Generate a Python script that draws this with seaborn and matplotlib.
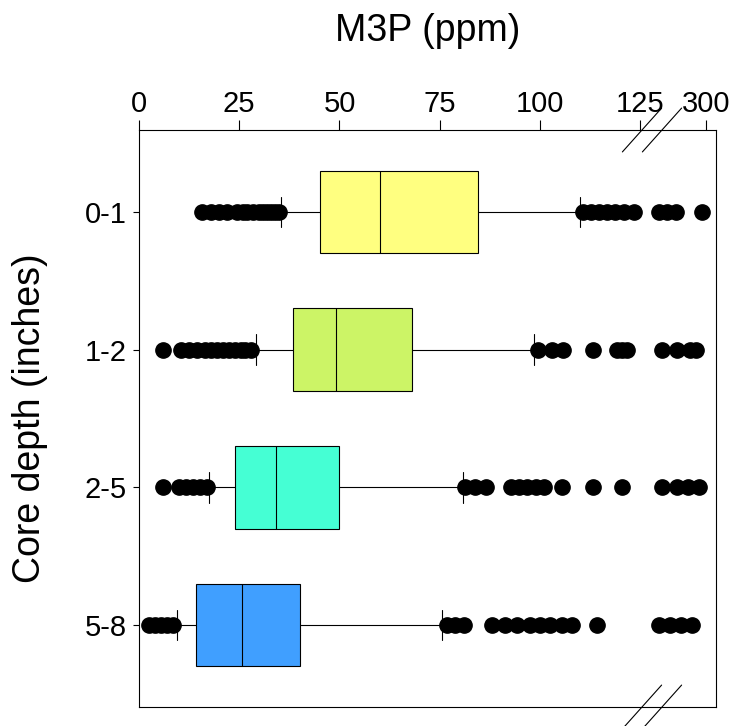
import numpy as np
import pandas as pd
import matplotlib
matplotlib.use("Agg")
import matplotlib.pyplot as plt
import seaborn as sns

# ---------------- data ----------------
categories = ["0-1", "1-2", "2-5", "5-8"]
box_colors = ["#FFFF80", "#CCF466", "#45FFD4", "#409FFF"]

q1 = [45.2, 38.4, 24.0, 14.2]
median = [60.2, 49.2, 34.1, 25.6]
q3 = [84.6, 68.0, 49.9, 40.2]
whisker_low = [35.5, 29.2, 17.5, 9.4]
whisker_high = [110.0, 98.5, 80.9, 75.5]

low_outliers_01 = [15.8, 18.0, 20.0, 22.0, 24.5, 26.0, 27.0, 28.5, 30.0, 31.0, 32.0, 33.0, 34.0, 35.0]
high_outliers_01 = [110.7, 112.7, 114.7, 116.7, 118.7, 121.0, 123.4, 148.0, 174.0, 203.0, 287.0]
low_outliers_12 = [6.0, 10.5, 12.5, 14.5, 16.5, 18.0, 19.5, 21.0, 22.5, 24.0, 25.5, 26.5, 27.9]
high_outliers_12 = [99.5, 103.0, 105.7, 113.1, 119.2, 120.4, 121.7, 156.8, 205.3, 248.3, 267.7]
low_outliers_25 = [5.9, 10.0, 11.7, 13.5, 15.2, 17.0]
high_outliers_25 = [81.3, 83.8, 86.5, 92.8, 94.8, 96.8, 99.0, 101.0, 105.5, 113.3, 120.4,
                    156.8, 205.3, 241.9, 277.4]
low_outliers_58 = [2.5, 4.0, 5.5, 7.0, 8.5]
high_outliers_58 = [76.9, 78.8, 81.0, 88.0, 91.3, 94.2, 97.5, 100.0, 102.5, 105.4, 107.9, 114.3,
                    148.1, 183.6, 219.2, 254.8]

low_outliers = [low_outliers_01, low_outliers_12, low_outliers_25, low_outliers_58]
high_outliers = [high_outliers_01, high_outliers_12, high_outliers_25, high_outliers_58]

x_ticks = [0, 25, 50, 75, 100, 125, 300]
x_ticklabels = ["0", "25", "50", "75", "100", "125", "300"]


# ------- build samples whose 10/25/50/75/90 percentiles equal the read stats -------
def expand(lo, wlo, a, m, b, whi, hi):
    vals = list(lo)
    vals += [wlo] * (30 - len(lo))
    vals += [a] * 41
    vals += [m] * 59
    vals += [b] * 40
    vals += [whi] * (31 - len(hi))
    vals += list(hi)
    return vals


rows = []
for i, c in enumerate(categories):
    for v in expand(low_outliers[i], whisker_low[i], q1[i], median[i], q3[i],
                    whisker_high[i], high_outliers[i]):
        rows.append((c, v))
df = pd.DataFrame(rows, columns=["depth", "M3P"])

# ---------------- broken-axis scale ----------------
BREAK = 125.0
T0 = 127.9
K = 0.0771


def fwd(v):
    v = np.asarray(v, dtype=float)
    return np.where(v <= BREAK, v, T0 + (v - BREAK) * K)


def inv(t):
    t = np.asarray(t, dtype=float)
    return np.where(t <= BREAK, t, np.where(t < T0, BREAK, BREAK + (t - T0) / K))


# ---------------- plot ----------------
sns.set_style("ticks")
plt.rcParams["font.family"] = ["Liberation Sans", "DejaVu Sans"]
plt.rcParams["text.color"] = "black"
plt.rcParams["axes.labelcolor"] = "black"
plt.rcParams["xtick.color"] = "black"
plt.rcParams["ytick.color"] = "black"

fig = plt.figure(figsize=(7.35, 7.26), dpi=100)
ax = fig.add_axes([139 / 735, 19 / 726, 577 / 735, 577 / 726])

sns.boxplot(data=df, x="M3P", y="depth", hue="depth", order=categories,
            hue_order=categories, palette=box_colors, saturation=1, width=0.6,
            linecolor="black", linewidth=0.8, whis=(10, 90), legend=False,
            flierprops=dict(marker="o", markerfacecolor="black",
                            markeredgecolor="black", markersize=11),
            capwidths=0.22, ax=ax)

ax.set_xscale("function", functions=(fwd, inv))
ax.set_xlim(0, float(inv(143.9)))
ax.set_ylim(3.594, -0.594)

ax.xaxis.tick_top()
ax.xaxis.set_label_position("top")
ax.set_xticks(x_ticks)
ax.set_xticklabels(x_ticklabels)
ax.xaxis.set_minor_locator(matplotlib.ticker.NullLocator())
ax.tick_params(axis="x", which="major", direction="out", length=7, width=0.8,
               labelsize=21, pad=2, color="black", labelcolor="black")
ax.tick_params(axis="y", direction="out", length=4, width=0.8, labelsize=21,
               pad=5, color="black", labelcolor="black")

for s in ax.spines.values():
    s.set_visible(True)
    s.set_color("black")
    s.set_linewidth(0.8)

ax.set_xlabel("M3P (ppm)", fontsize=27, va="center", color="black")
ax.xaxis.set_label_coords(0.5, 1 + (130 - 31) / 577)
ax.set_ylabel("Core depth (inches)", fontsize=27, va="center", color="black")
ax.yaxis.set_label_coords((30 - 139) / 577, 0.5)

# axis break marks
for xc in [(642 - 139) / 577, (662 - 139) / 577]:
    for yc in [0.0, 1.0]:
        ax.plot([xc - 0.034, xc + 0.034], [yc - 0.038, yc + 0.038],
                transform=ax.transAxes, color="black", lw=0.8, clip_on=False)

fig.savefig("out.png", dpi=100)
